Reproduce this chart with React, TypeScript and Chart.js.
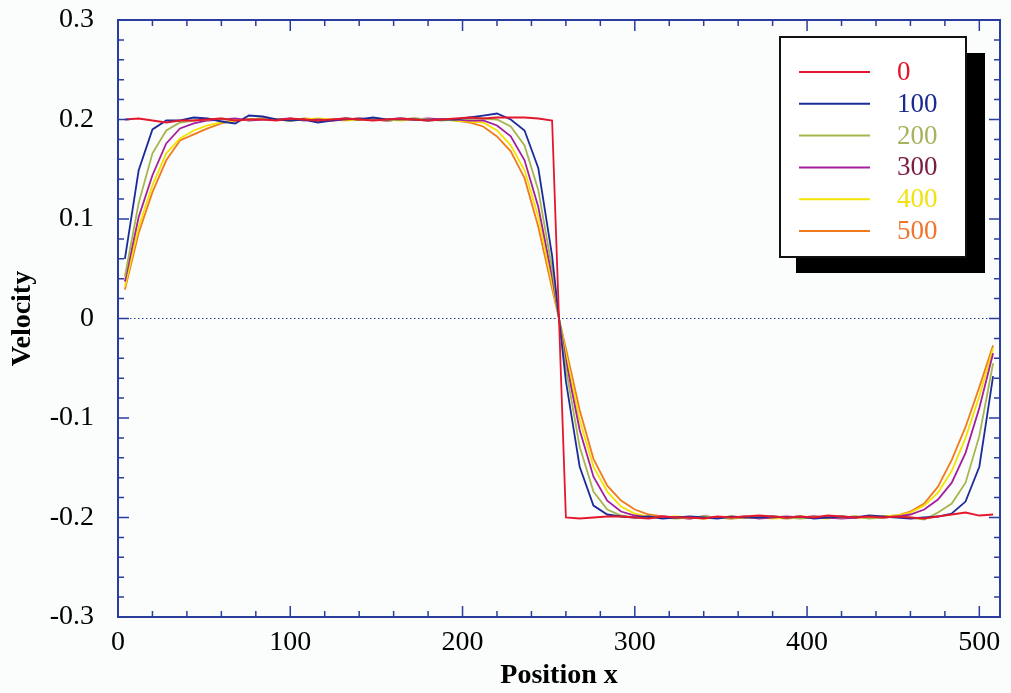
import { useEffect, useRef } from "react";
import { Chart, registerables } from "chart.js";

Chart.register(...registerables);

// Cell-centre positions of the 1-D grid (every 8th point of 512)
const positions = [
  4, 12, 20, 28, 36, 44, 52, 60,
  68, 76, 84, 92, 100, 108, 116, 124,
  132, 140, 148, 156, 164, 172, 180, 188,
  196, 204, 212, 220, 228, 236, 244, 252,
  260, 268, 276, 284, 292, 300, 308, 316,
  324, 332, 340, 348, 356, 364, 372, 380,
  388, 396, 404, 412, 420, 428, 436, 444,
  452, 460, 468, 476, 484, 492, 500, 508,
];

// Velocity profiles at successive times
const velocityT0 = [
  0.200, 0.201, 0.199, 0.197, 0.199, 0.199, 0.200, 0.201,
  0.199, 0.200, 0.200, 0.199, 0.201, 0.200, 0.199, 0.200,
  0.201, 0.200, 0.199, 0.200, 0.201, 0.200, 0.199, 0.200,
  0.201, 0.202, 0.201, 0.202, 0.202, 0.202, 0.201, 0.199,
  -0.200, -0.201, -0.200, -0.199, -0.199, -0.200, -0.201, -0.199,
  -0.200, -0.200, -0.201, -0.199, -0.200, -0.199, -0.198, -0.199,
  -0.200, -0.199, -0.200, -0.198, -0.199, -0.200, -0.199, -0.200,
  -0.199, -0.200, -0.201, -0.199, -0.197, -0.195, -0.198, -0.197,
];

const velocityT100 = [
  0.060, 0.149, 0.190, 0.199, 0.199, 0.202, 0.201, 0.198,
  0.196, 0.204, 0.203, 0.200, 0.199, 0.200, 0.197, 0.199,
  0.201, 0.200, 0.202, 0.200, 0.201, 0.200, 0.199, 0.200,
  0.200, 0.202, 0.204, 0.206, 0.200, 0.189, 0.151, 0.063,
  -0.063, -0.149, -0.188, -0.197, -0.199, -0.200, -0.199, -0.201,
  -0.200, -0.199, -0.200, -0.201, -0.199, -0.200, -0.200, -0.199,
  -0.200, -0.199, -0.201, -0.200, -0.199, -0.200, -0.198, -0.199,
  -0.200, -0.201, -0.200, -0.199, -0.196, -0.184, -0.149, -0.058,
];

const velocityT200 = [
  0.042, 0.116, 0.166, 0.189, 0.197, 0.199, 0.200, 0.201,
  0.199, 0.200, 0.201, 0.200, 0.199, 0.200, 0.198, 0.200,
  0.201, 0.200, 0.201, 0.199, 0.200, 0.201, 0.200, 0.199,
  0.200, 0.201, 0.201, 0.200, 0.193, 0.174, 0.129, 0.050,
  -0.050, -0.129, -0.174, -0.192, -0.198, -0.200, -0.199, -0.200,
  -0.201, -0.200, -0.199, -0.200, -0.201, -0.199, -0.200, -0.199,
  -0.200, -0.201, -0.200, -0.199, -0.200, -0.199, -0.201, -0.200,
  -0.199, -0.200, -0.202, -0.195, -0.186, -0.165, -0.118, -0.045,
];

const velocityT300 = [
  0.037, 0.102, 0.144, 0.176, 0.191, 0.196, 0.199, 0.200,
  0.201, 0.199, 0.200, 0.200, 0.201, 0.199, 0.200, 0.199,
  0.200, 0.201, 0.200, 0.199, 0.200, 0.200, 0.201, 0.200,
  0.200, 0.199, 0.199, 0.194, 0.183, 0.159, 0.112, 0.042,
  -0.042, -0.112, -0.159, -0.183, -0.194, -0.198, -0.200, -0.199,
  -0.200, -0.201, -0.199, -0.200, -0.200, -0.199, -0.201, -0.200,
  -0.199, -0.200, -0.199, -0.200, -0.201, -0.200, -0.199, -0.200,
  -0.199, -0.197, -0.192, -0.182, -0.165, -0.135, -0.090, -0.035,
];

const velocityT400 = [
  0.032, 0.092, 0.134, 0.166, 0.181, 0.189, 0.194, 0.197,
  0.199, 0.200, 0.201, 0.200, 0.199, 0.200, 0.201, 0.200,
  0.199, 0.200, 0.201, 0.200, 0.199, 0.200, 0.200, 0.200,
  0.199, 0.198, 0.197, 0.189, 0.174, 0.149, 0.102, 0.035,
  -0.035, -0.102, -0.149, -0.174, -0.189, -0.196, -0.199, -0.200,
  -0.199, -0.200, -0.201, -0.200, -0.199, -0.200, -0.200, -0.201,
  -0.200, -0.199, -0.200, -0.201, -0.199, -0.200, -0.200, -0.199,
  -0.198, -0.195, -0.188, -0.175, -0.153, -0.120, -0.078, -0.030,
];

const velocityT500 = [
  0.029, 0.086, 0.127, 0.159, 0.179, 0.185, 0.191, 0.196,
  0.199, 0.200, 0.201, 0.200, 0.199, 0.201, 0.200, 0.199,
  0.200, 0.201, 0.200, 0.199, 0.200, 0.201, 0.200, 0.200,
  0.199, 0.197, 0.193, 0.183, 0.168, 0.141, 0.092, 0.030,
  -0.030, -0.092, -0.141, -0.168, -0.183, -0.192, -0.197, -0.199,
  -0.200, -0.201, -0.199, -0.200, -0.201, -0.200, -0.199, -0.200,
  -0.201, -0.200, -0.199, -0.200, -0.200, -0.199, -0.200, -0.199,
  -0.198, -0.194, -0.186, -0.169, -0.142, -0.109, -0.069, -0.027,
];

const seriesLabels = ["0", "100", "200", "300", "400", "500"];
const seriesValues = [
  velocityT0,
  velocityT100,
  velocityT200,
  velocityT300,
  velocityT400,
  velocityT500,
];
const lineColors = ["#e3182c", "#1d2b9a", "#a6b54c", "#a51f9c", "#f3e400", "#f07a1c"];
const labelColors = ["#e3142a", "#1a2a8e", "#a8b25e", "#7c1c44", "#f1e214", "#f0742c"];

const xMajorTicks = [0, 100, 200, 300, 400, 500];
const yMajorTicks = [-0.3, -0.2, -0.1, 0, 0.1, 0.2, 0.3];

const SERIF = "'Liberation Serif', 'Times New Roman', serif";
const FRAME_BLUE = "#2b3d9e";

const decorPlugin = {
  id: "decor",
  beforeDraw(chart: any) {
    const { ctx, width, height } = chart;
    ctx.save();
    ctx.fillStyle = "#fbfdfd";
    ctx.fillRect(0, 0, width, height);
    ctx.restore();
  },
  beforeDatasetsDraw(chart: any) {
    const { ctx, chartArea: a, scales } = chart;
    const y0 = scales.y.getPixelForValue(0);
    ctx.save();
    ctx.strokeStyle = FRAME_BLUE;
    ctx.lineWidth = 1.2;
    ctx.setLineDash([1.5, 2.5]);
    ctx.beginPath();
    ctx.moveTo(a.left, y0);
    ctx.lineTo(a.right, y0);
    ctx.stroke();
    ctx.restore();
  },
  afterDraw(chart: any) {
    const { ctx, chartArea: a, scales } = chart;
    ctx.save();
    ctx.strokeStyle = FRAME_BLUE;
    ctx.lineWidth = 2;
    ctx.strokeRect(a.left, a.top, a.right - a.left, a.bottom - a.top);

    // inward tick marks on all four sides
    ctx.lineWidth = 1.5;
    ctx.beginPath();
    for (let v = 0; v <= 500; v += 20) {
      const px = scales.x.getPixelForValue(v);
      const len = xMajorTicks.includes(v) ? 11 : 6;
      ctx.moveTo(px, a.bottom);
      ctx.lineTo(px, a.bottom - len);
      ctx.moveTo(px, a.top);
      ctx.lineTo(px, a.top + len);
    }
    for (let k = -15; k <= 15; k++) {
      const v = k / 50;
      const py = scales.y.getPixelForValue(v);
      const len = k % 5 === 0 ? 11 : 6;
      ctx.moveTo(a.left, py);
      ctx.lineTo(a.left + len, py);
      ctx.moveTo(a.right, py);
      ctx.lineTo(a.right - len, py);
    }
    ctx.stroke();

    // legend box with drop shadow
    const bx = a.left + 662;
    const by = a.top + 17;
    const bw = 186;
    const bh = 220;
    ctx.fillStyle = "#000";
    ctx.fillRect(bx + 16, by + 16, bw + 3, bh);
    ctx.fillStyle = "#fff";
    ctx.fillRect(bx, by, bw, bh);
    ctx.strokeStyle = "#111";
    ctx.lineWidth = 2;
    ctx.strokeRect(bx, by, bw, bh);

    ctx.font = `27px ${SERIF}`;
    ctx.textBaseline = "middle";
    ctx.textAlign = "left";
    seriesLabels.forEach((label, k) => {
      const ly = by + 35 + k * 31.8;
      ctx.strokeStyle = lineColors[k];
      ctx.lineWidth = 2;
      ctx.beginPath();
      ctx.moveTo(bx + 19, ly);
      ctx.lineTo(bx + 90, ly);
      ctx.stroke();
      ctx.fillStyle = labelColors[k];
      ctx.fillText(label, bx + 117, ly + 1);
    });
    ctx.restore();
  },
};

export default function App() {
  const canvasRef = useRef<HTMLCanvasElement | null>(null);

  useEffect(() => {
    const canvas = canvasRef.current;
    if (!canvas) return;

    const datasets = seriesValues.map((vals, k) => ({
      label: seriesLabels[k],
      data: positions.map((x, i) => ({ x, y: vals[i] })),
      borderColor: lineColors[k],
      backgroundColor: lineColors[k],
      borderWidth: 1.8,
      pointRadius: 0,
      tension: 0,
      fill: false,
    }));

    const chart = new Chart(canvas, {
      type: "line",
      data: { datasets },
      plugins: [decorPlugin],
      options: {
        responsive: false,
        animation: false,
        devicePixelRatio: 1,
        layout: { padding: { left: 0, top: 20, right: 11, bottom: 0 } },
        plugins: {
          legend: { display: false },
          tooltip: { enabled: false },
        },
        scales: {
          x: {
            type: "linear",
            min: 0,
            max: 512,
            afterFit: (s: any) => {
              s.height = 76;
              s.paddingLeft = 0;
              s.paddingRight = 0;
            },
            grid: { display: false, drawTicks: false },
            border: { display: false },
            ticks: {
              stepSize: 100,
              includeBounds: false,
              color: "#000",
              padding: 9,
              maxRotation: 0,
              font: { family: SERIF, size: 28 },
              callback: (v: any) => String(v),
            },
            title: {
              display: true,
              text: "Position x",
              color: "#000",
              font: { family: SERIF, size: 28, weight: "bold" },
              padding: { top: 0, bottom: 0 },
            },
          },
          y: {
            type: "linear",
            min: -0.3,
            max: 0.3,
            afterFit: (s: any) => {
              s.width = 118;
              s.paddingTop = 0;
              s.paddingBottom = 0;
            },
            grid: { display: false, drawTicks: false },
            border: { display: false },
            ticks: {
              stepSize: 0.1,
              includeBounds: false,
              color: "#000",
              padding: 24,
              font: { family: SERIF, size: 28 },
              callback: (v: any) => {
                const n = Math.round(Number(v) * 10) / 10;
                return yMajorTicks.includes(n) && n === 0 ? "0" : n.toFixed(1);
              },
            },
            title: {
              display: true,
              text: "Velocity",
              color: "#000",
              font: { family: SERIF, size: 28, weight: "bold" },
              padding: { top: 6, bottom: 0 },
            },
          },
        },
      },
    } as any);

    return () => chart.destroy();
  }, []);

  return (
    <div style={{ position: "fixed", left: 0, top: 0, width: 1011, height: 693 }}>
      <canvas ref={canvasRef} width={1011} height={693} style={{ display: "block" }} />
    </div>
  );
}
